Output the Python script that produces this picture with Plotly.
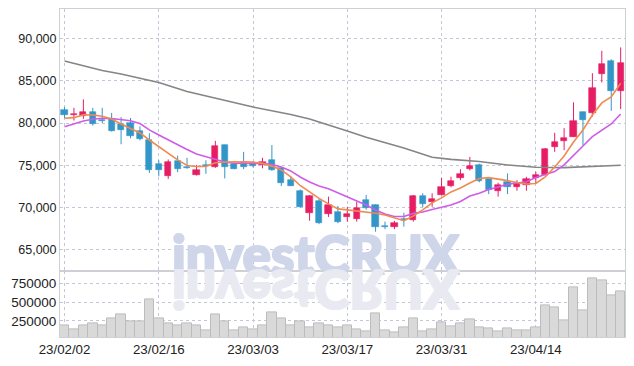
import plotly.graph_objects as go
from plotly.subplots import make_subplots

dates = ["23/02/02", "23/02/03", "23/02/06", "23/02/07", "23/02/08", "23/02/09", "23/02/10",
         "23/02/13", "23/02/14", "23/02/15", "23/02/16", "23/02/17", "23/02/20", "23/02/21",
         "23/02/22", "23/02/23", "23/02/24", "23/02/27", "23/02/28", "23/03/02", "23/03/03",
         "23/03/06", "23/03/07", "23/03/08", "23/03/09", "23/03/10", "23/03/13", "23/03/14",
         "23/03/15", "23/03/16", "23/03/17", "23/03/20", "23/03/21", "23/03/22", "23/03/23",
         "23/03/24", "23/03/27", "23/03/28", "23/03/29", "23/03/30", "23/03/31", "23/04/03",
         "23/04/04", "23/04/05", "23/04/06", "23/04/07", "23/04/10", "23/04/11", "23/04/12",
         "23/04/13", "23/04/14", "23/04/17", "23/04/18", "23/04/19", "23/04/20", "23/04/21",
         "23/04/24", "23/04/25", "23/04/26", "23/04/27"]

opens = [81600, 80950, 80800, 81300, 80400, 80500, 79900, 80000, 79100, 78000,
         75200, 73800, 75550, 74700, 73900, 75050, 74750, 77400, 75150, 75250,
         75150, 75000, 75650, 74650, 73250, 72000, 69350, 70800, 69200, 69500,
         68950, 68700, 70900, 70300, 67800, 67700, 68700, 68500, 71400, 70700,
         71500, 72600, 73550, 74550, 75050, 73350, 72000, 73050, 72500, 72700,
         73550, 73850, 77200, 77900, 78400, 81300, 81150, 85750, 87350, 83850]
highs = [81900, 81800, 82800, 81800, 81800, 81200, 80700, 80600, 79600, 78800,
         75600, 75700, 76150, 75900, 75050, 75600, 77900, 77450, 75450, 76600,
         75450, 75900, 77400, 74850, 73650, 72150, 71500, 71050, 71300, 70200,
         70100, 70700, 71500, 70400, 68350, 68450, 69400, 71500, 71700, 71700,
         73500, 73650, 74550, 76000, 75200, 73400, 72950, 74050, 73250, 73650,
         74250, 77050, 78850, 79400, 82450, 81350, 85900, 88550, 87550, 88950]
lows = [80600, 80300, 80500, 79700, 80000, 79000, 77500, 78200, 77950, 74100,
        73700, 73400, 74200, 74600, 73800, 74000, 74700, 73450, 74550, 74550,
        74750, 74650, 74350, 72550, 72550, 70000, 68450, 68050, 68900, 68150,
        68350, 68350, 69750, 67150, 67450, 67450, 67750, 68350, 70050, 70100,
        71450, 72400, 73250, 74400, 73000, 71600, 71300, 71600, 72000, 72000,
        72900, 73800, 76600, 76800, 78350, 77400, 80750, 84800, 81450, 81650]
closes = [80900, 81050, 81300, 79900, 80300, 79100, 79200, 78500, 78100, 74500,
          74500, 75400, 74600, 74650, 74400, 74950, 77300, 74850, 74600, 74750,
          74950, 75450, 74400, 72950, 72600, 70050, 71400, 68150, 70300, 68350,
          69250, 69900, 69950, 67750, 67700, 68150, 68550, 71400, 70450, 71000,
          72400, 73100, 73950, 74950, 73100, 72100, 72700, 72500, 72950, 73350,
          73850, 76900, 77750, 78250, 80250, 80350, 84100, 87000, 83850, 87050]
volumes = [185000, 145000, 194000, 212000, 185000, 278000, 340000, 238000, 251000, 542000,
           278000, 212000, 185000, 212000, 194000, 119000, 340000, 251000, 132000, 168000,
           145000, 185000, 370000, 278000, 185000, 238000, 168000, 212000, 185000, 159000,
           198000, 141000, 106000, 344000, 128000, 102000, 168000, 287000, 115000, 141000,
           234000, 181000, 212000, 274000, 168000, 155000, 115000, 155000, 128000, 128000,
           168000, 450000, 432000, 260000, 697000, 393000, 816000, 790000, 595000, 648000]

ma_short = [80570, 80640, 80980, 80960, 80800, 80490, 79890, 79360, 78830, 78000,
            77180, 76350, 75640, 74990, 74870, 74870, 75310, 75400, 75440, 75430,
            75380, 75230, 74910, 74460, 73630, 72620, 71860, 71090, 70440, 69850,
            69730, 69610, 69490, 69340, 69140, 68780, 68460, 69020, 69730, 70560,
            71150, 71860, 72330, 72920, 73450, 73550, 73390, 73190, 72980, 72800,
            72860, 73630, 74810, 76110, 77770, 79190, 80960, 82380, 83090, 84700]
ma_mid = [79570, 79890, 80250, 80450, 80570, 80540, 80450, 80280, 79950, 79190,
          78590, 78000, 77410, 76880, 76350, 76030, 75700, 75400, 75250, 75250,
          75250, 75230, 75110, 74810, 74340, 73630, 73040, 72570, 72230, 71770,
          71300, 70790, 70320, 69730, 69260, 68960, 68960, 69320, 69490, 69790,
          70020, 70320, 70730, 71380, 71700, 72150, 72450, 72770, 72920, 73070,
          73570, 73870, 74260, 75050, 76230, 77290, 78390, 79190, 79890, 81080]
ma_long_idx = [0, 3, 4, 6, 8, 10, 13, 17, 20, 24, 26, 30, 32, 36, 39, 41, 44, 47, 50, 53, 57, 59]
ma_long = [87340, 86510, 86220, 85800, 85330, 84800, 83740, 82670, 81900, 81020, 80490,
           79070, 78320, 77060, 75960, 75710, 75460, 75050, 74780, 74730, 74860, 75010]

price_ticks = [65000, 70000, 75000, 80000, 85000, 90000]
price_tick_text = ["65,000", "70,000", "75,000", "80,000", "85,000", "90,000"]
vol_ticks = [250000, 500000, 750000]
vol_tick_text = ["250000", "500000", "750000"]
date_tick_idx = [0, 10, 20, 30, 40, 50]

UP = "#e61e64"
DOWN = "#3396c8"
GRID = "#c4c7d9"
FRAME = "#cfcfd6"
WM = "#d0d6ea"
WM_REFL = "#e9eaf1"

n = len(dates)
idx = list(range(n))

fig = make_subplots(rows=2, cols=1, shared_xaxes=True, vertical_spacing=0,
                    row_heights=[0.8, 0.2])

for is_up, color in ((True, UP), (False, DOWN)):
    sel = [i for i in idx if (closes[i] >= opens[i]) == is_up]
    wx, wy = [], []
    for i in sel:
        wx += [i, i, None]
        wy += [lows[i], highs[i], None]
    fig.add_trace(go.Scatter(x=wx, y=wy, mode="lines", line=dict(color=color, width=1),
                             hoverinfo="skip", showlegend=False), row=1, col=1)
    fig.add_trace(go.Bar(x=sel,
                         y=[max(abs(closes[i] - opens[i]), 110) for i in sel],
                         base=[min(closes[i], opens[i]) for i in sel],
                         width=0.66, marker=dict(color=color, line=dict(color=color, width=0.6)),
                         showlegend=False), row=1, col=1)

fig.add_trace(go.Scatter(x=ma_long_idx, y=ma_long, mode="lines",
                         line=dict(color="#858585", width=1.6), showlegend=False), row=1, col=1)
fig.add_trace(go.Scatter(x=idx, y=ma_mid, mode="lines",
                         line=dict(color="#cf5ce8", width=1.6), showlegend=False), row=1, col=1)
fig.add_trace(go.Scatter(x=idx, y=ma_short, mode="lines",
                         line=dict(color="#ef8a50", width=1.6), showlegend=False), row=1, col=1)

fig.add_trace(go.Bar(x=idx, y=volumes, width=1.0,
                     marker=dict(color="#d9d9d9", line=dict(color="#bcbcbc", width=1)),
                     showlegend=False), row=2, col=1)

axis_common = dict(showgrid=True, gridcolor=GRID, griddash="dot", gridwidth=1,
                   showline=True, mirror=True, linecolor=FRAME, linewidth=1,
                   zeroline=False, ticks="", automargin=False)

fig.update_xaxes(range=[-0.48, n - 1 + 0.46], tickmode="array",
                 tickvals=date_tick_idx, ticktext=[dates[i] for i in date_tick_idx],
                 **axis_common)
fig.update_xaxes(showticklabels=False, row=1, col=1)
fig.update_xaxes(tickfont=dict(family="Liberation Sans", size=13.3, color="#222222"),
                 row=2, col=1)

fig.update_yaxes(range=[62460, 93490], tickmode="array", tickvals=price_ticks,
                 ticktext=price_tick_text,
                 tickfont=dict(family="Liberation Sans", size=12.5, color="#222222"),
                 row=1, col=1, **axis_common)
fig.update_yaxes(range=[38000, 906000], tickmode="array", tickvals=vol_ticks,
                 ticktext=vol_tick_text, row=2, col=1,
                 tickfont=dict(family="Liberation Sans", size=13.5, color="#222222"),
                 **axis_common)

wm_font = dict(family="Lato, Roboto, Liberation Sans", size=53, weight=900)
fig.add_annotation(text="investCRUX", xref="paper", yref="paper", x=0.453, y=0.256,
                   xanchor="center", yanchor="middle", showarrow=False,
                   font=dict(color=WM, **wm_font))
fig.add_annotation(text="investCRUX", xref="paper", yref="paper", x=0.453, y=0.256,
                   xanchor="center", yanchor="middle", showarrow=False,
                   font=dict(color=WM_REFL, **wm_font))

fig.update_layout(width=634, height=366, margin=dict(l=60, r=9, t=9, b=29, autoexpand=False),
                  paper_bgcolor="white", plot_bgcolor="white", barmode="overlay",
                  bargap=0, showlegend=False)

post = """
document.body.style.margin = '0';
document.body.style.padding = '0';
var gd = document.getElementById('{plot_id}');
function styleWM(){
  var t0 = gd.querySelector('g.annotation[data-index="0"] text.annotation-text');
  var t1 = gd.querySelector('g.annotation[data-index="1"] text.annotation-text');
  if (t0) { t0.style.stroke = 'WMCOLOR'; t0.style.strokeWidth = '2.2px'; t0.style.strokeLinejoin = 'round'; }
  if (t1) { t1.style.stroke = 'REFLCOLOR'; t1.style.strokeWidth = '2.2px'; t1.style.strokeLinejoin = 'round';
            t1.style.transformBox = 'fill-box'; t1.style.transformOrigin = '50% 79%';
            t1.style.transform = 'scaleY(-1)'; }
}
styleWM();
if (gd.on) { gd.on('plotly_afterplot', styleWM); }
""".replace("WMCOLOR", WM).replace("REFLCOLOR", WM_REFL)

fig.write_html("out.html", post_script=post, config={"displayModeBar": False})
